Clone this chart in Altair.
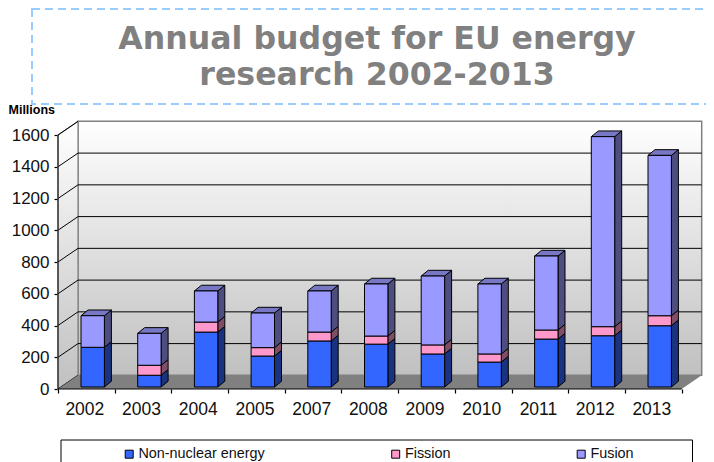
import altair as alt
import pandas as pd

years = ["2002", "2003", "2004", "2005", "2007", "2008", "2009", "2010", "2011", "2012", "2013"]
non_nuclear = [250, 74, 346, 195, 290, 270, 208, 157, 302, 323, 386]
fission = [0, 63, 63, 53, 56, 51, 57, 51, 57, 57, 63]
fusion = [199, 201, 196, 218, 259, 328, 434, 441, 466, 1197, 1010]
series = ["Non-nuclear energy", "Fission", "Fusion"]
front_colors = ["#3366FF", "#FF99CC", "#9999FF"]
side_colors = ["#1A3380", "#804D66", "#4D4D80"]
top_color = "#7777C4"
y_ticks = [0, 200, 400, 600, 800, 1000, 1200, 1400, 1600]

# scale calibration: one category = 56.7 px, one y unit = 0.15875 px
W, H = 698, 454
CAT, UNIT = 56.7, 0.15875
x_domain = [(8 - 58) / CAT, (8 + W - 58) / CAT]
y_domain = [(389 - 462) / UNIT, (389 - 8) / UNIT]
xs = alt.Scale(domain=x_domain, range=[0, W], nice=False, zero=False)
ys = alt.Scale(domain=y_domain, range=[H, 0], nice=False, zero=False)

WALL_DX, WALL_DY = 20 / CAT, 86
BAR_X, BAR_W, BAR_BASE = 23 / CAT, 23.4 / CAT, 12.6
BAR_DX, BAR_DY = 7 / CAT, 36
N = len(years)


def px(v):
    return v - 8


fronts, sides, tops = [], [], []
for i, y in enumerate(years):
    lo = BAR_BASE
    x0 = i + BAR_X
    x1 = x0 + BAR_W
    for s, c, v in zip(series, side_colors, (non_nuclear[i], fission[i], fusion[i])):
        if v == 0:
            continue
        hi = lo + v
        fronts.append(dict(year=y, series=s, x=x0, x2=x1, y=lo, y2=hi))
        key = f"{y}-{s}"
        sides.append(dict(id=key, fill=c, x=x1, y=lo, y2=hi))
        sides.append(dict(id=key, fill=c, x=x1 + BAR_DX, y=lo + BAR_DY, y2=hi + BAR_DY))
        lo = hi
    tops.append(dict(id=y, y=lo, x=x0, x2=x1))
    tops.append(dict(id=y, y=lo + BAR_DY, x=x0 + BAR_DX, x2=x1 + BAR_DX))
fronts, sides, tops = map(pd.DataFrame, (fronts, sides, tops))

label_expr = "(" + str(years) + ")[datum.value] || ''"
x_axis_def = alt.Axis(
    values=list(range(N + 1)), labelExpr=label_expr, title=None, grid=False, domain=False,
    orient="bottom", offset=-(462 - 389), tickSize=4, tickColor="black", tickWidth=1.2,
    labelFont="Liberation Sans", labelFontSize=17.5, labelColor="#111111", labelOffset=CAT / 2 - 2,
    labelPadding=7, labelOverlap=False, labelFlush=False,
)
y_axis_def = alt.Axis(
    values=y_ticks, format="d", title="Millions", grid=False, domain=False, orient="left",
    offset=-(58 - 8), tickSize=4, tickColor="black", tickWidth=1.2,
    labelFont="Liberation Sans", labelFontSize=17, labelColor="#111111", labelPadding=5,
    labelOverlap=False, labelFlush=False, titleAngle=0, titleAlign="left", titleBaseline="alphabetic",
    titleFont="Liberation Sans", titleFontSize=12.5, titleFontWeight="bold", titleColor="black",
    titleX=-50, titleY=105,
)


def qx(field):
    return alt.X(f"{field}:Q", scale=xs, axis=x_axis_def)


def qy(field):
    return alt.Y(f"{field}:Q", scale=ys, axis=y_axis_def)


X, Y = qx("x"), qy("y")

# back wall
wall_top, wall_bottom = 1600 + WALL_DY, WALL_DY
gradient = alt.LinearGradient(
    gradient="linear",
    x1=0, x2=0, y1=0, y2=1,
    stops=[alt.GradientStop(color="#FFFFFF", offset=0), alt.GradientStop(color="#C0C0C0", offset=1)],
)
back = alt.Chart(pd.DataFrame([dict(x=WALL_DX, x2=N + WALL_DX, y=wall_bottom, y2=wall_top)])).mark_rect(
    fill=gradient, stroke="#808080", strokeWidth=1.5
).encode(X, alt.X2("x2:Q"), Y, alt.Y2("y2:Q"))

left = alt.Chart(pd.DataFrame([
    dict(x=0, y=0, y2=1600), dict(x=WALL_DX, y=wall_bottom, y2=wall_top)
])).mark_area(fill=gradient, stroke="#808080", strokeWidth=1.2, orient="vertical").encode(X, Y, alt.Y2("y2:Q"))

grid_df = pd.DataFrame([dict(yb=t + WALL_DY, b=WALL_DX, c=N + WALL_DX) for t in y_ticks if 0 < t < 1600])
grid_back = alt.Chart(grid_df).mark_rule(color="black", strokeWidth=1).encode(
    qx("b"), alt.X2("c:Q"), qy("yb")
)
grid_side = alt.Chart(pd.DataFrame([dict(y=t, yb=t + WALL_DY, a=0, b=WALL_DX) for t in y_ticks])).mark_rule(
    color="black", strokeWidth=1
).encode(qx("a"), alt.X2("b:Q"), Y, alt.Y2("yb:Q"))

floor = alt.Chart(pd.DataFrame([
    dict(y=0, x=0, x2=N), dict(y=WALL_DY, x=WALL_DX, x2=N + WALL_DX)
])).mark_area(fill="#808080", orient="horizontal").encode(X, alt.X2("x2:Q"), Y)

side_faces = alt.Chart(sides).mark_area(stroke="black", strokeWidth=1, orient="vertical").encode(
    X, Y, alt.Y2("y2:Q"), alt.Fill("fill:N", scale=None, legend=None), alt.Detail("id:N")
)
top_faces = alt.Chart(tops).mark_area(fill=top_color, stroke="black", strokeWidth=1, orient="horizontal").encode(
    X, alt.X2("x2:Q"), Y, alt.Detail("id:N")
)
front_faces = alt.Chart(fronts).mark_bar(stroke="black", strokeWidth=1).encode(
    X, alt.X2("x2:Q"), Y, alt.Y2("y2:Q"),
    alt.Color(
        "series:N",
        scale=alt.Scale(domain=series, range=front_colors),
        legend=alt.Legend(
            title=None, orient="none", legendX=px(122), legendY=px(447), direction="horizontal",
            columns=3, columnPadding=123.5, gridAlign="none", symbolType="square", symbolSize=64,
            symbolStrokeColor="black", symbolStrokeWidth=1, labelFont="Liberation Sans", labelFontSize=14.4,
            labelColor="#111111", labelOffset=2, padding=0,
        ),
    ),
)

# axes
y_line = alt.Chart(pd.DataFrame([dict(x=0, y=0, y2=1600)])).mark_rule(color="#222222", strokeWidth=1.2).encode(
    X, Y, alt.Y2("y2:Q")
)
x_line = alt.Chart(pd.DataFrame([dict(x=0, x2=N, y=0)])).mark_rule(color="black", strokeWidth=1.2).encode(
    X, alt.X2("x2:Q"), Y
)

# dashed title frame and legend box
frame = alt.Chart(pd.DataFrame({"k": [0]})).mark_rect(
    fill="transparent", stroke="#99CCFF", strokeWidth=2, strokeDash=[8, 5]
).encode(x=alt.value(px(32)), x2=alt.value(px(760)), y=alt.value(1), y2=alt.value(px(104)))
legend_box = alt.Chart(pd.DataFrame({"k": [0]})).mark_rect(
    fill="white", stroke="black", strokeWidth=1
).encode(x=alt.value(px(61)), x2=alt.value(px(692.5)), y=alt.value(px(440)), y2=alt.value(px(480)))

chart = alt.layer(
    frame, legend_box, back, left, grid_back, grid_side, floor, y_line, x_line,
    side_faces, top_faces, front_faces,
).properties(
    width=W, height=H, padding=0, autosize=alt.AutoSizeParams(type="none"), background="white",
    title=alt.TitleParams(
        text=["Annual budget for EU energy", "research 2002-2013"], anchor="middle", frame="group",
        font="DejaVu Sans", fontSize=31.6, fontWeight="bold", color="#808080", baseline="top",
        lineHeight=36, dx=20, dy=10, offset=-74,
    ),
).configure_view(stroke=None)

chart.save("out.html", embed_options={"renderer": "svg", "actions": False})
